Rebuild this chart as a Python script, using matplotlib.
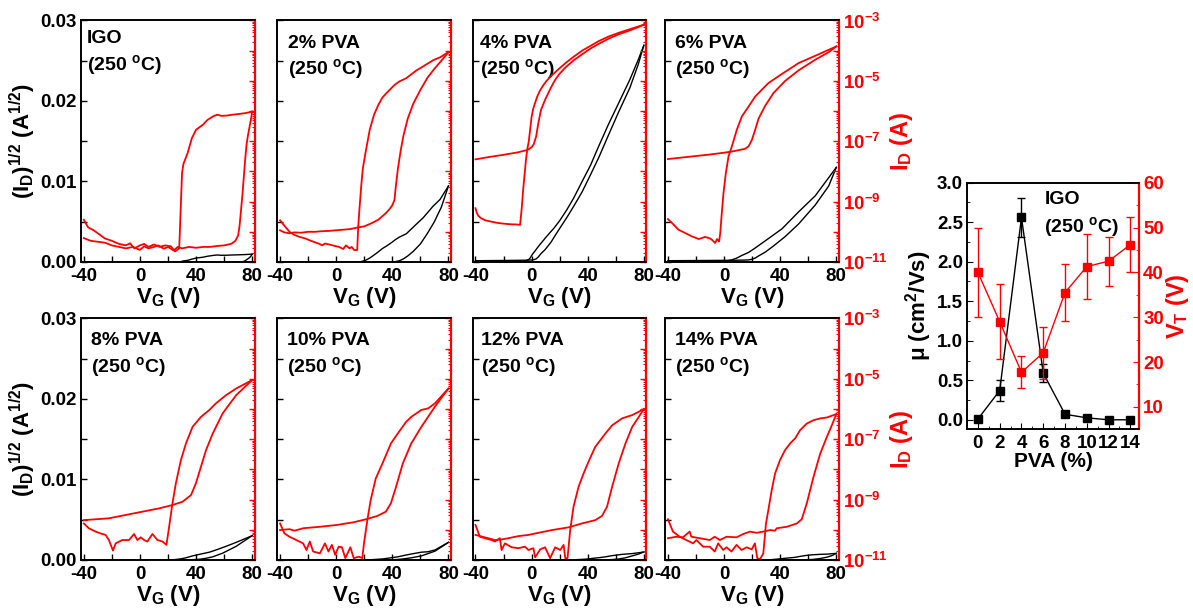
import numpy as np
import matplotlib
matplotlib.use('Agg')
import matplotlib.pyplot as plt
from matplotlib.ticker import MultipleLocator, LogLocator, FuncFormatter, NullFormatter, FormatStrFormatter

plt.rcParams['font.family'] = ['Liberation Sans', 'DejaVu Sans']
plt.rcParams['font.weight'] = 'bold'
plt.rcParams['axes.labelweight'] = 'bold'
plt.rcParams['axes.unicode_minus'] = False
plt.rcParams['mathtext.fontset'] = 'custom'
plt.rcParams['mathtext.rm'] = 'Liberation Sans:bold'
plt.rcParams['mathtext.it'] = 'Liberation Sans:bold'
plt.rcParams['mathtext.bf'] = 'Liberation Sans:bold'
plt.rcParams['mathtext.default'] = 'rm'

# ---------------- data: transfer curves, (V_G [V], log10 I_D [A]) -------------
IGO_A = [(-40,-10.21),(-35,-10.30),(-30,-10.33),(-25,-10.36),(-20,-10.45),(-15,-10.50),(-10,-10.55),
         (-5,-10.50),(0,-10.60),(3,-10.48),(6,-10.55),(10,-10.50),(13,-10.45),(17,-10.56),(20,-10.50),
         (24,-10.62),(27,-10.50),(30,-10.55),(35,-10.50),(40,-10.53),(45,-10.50),(50,-10.50),(55,-10.47),
         (60,-10.45),(65,-10.40),(68,-10.30),(70,-10.12),(71,-9.8),(72,-9.3),(73,-8.8),(74,-8.2),
         (75,-7.6),(76,-7.1),(77,-6.8),(78,-6.55),(79,-6.3),(80,-6.02)]
IGO_B = [(-40,-9.60),(-37,-9.85),(-33,-9.95),(-30,-10.05),(-25,-10.22),(-20,-10.30),(-15,-10.40),
         (-10,-10.45),(-7,-10.38),(-4,-10.55),(0,-10.45),(3,-10.40),(6,-10.50),(10,-10.42),(14,-10.50),
         (18,-10.45),(22,-10.48),(25,-10.65),(28,-10.55),(29,-9.3),(30,-8.05),(31,-7.75),(34,-7.39),
         (37,-6.9),(40,-6.62),(42,-6.55),(45,-6.45),(48,-6.30),(52,-6.18),(55,-6.12),(58,-6.16),
         (62,-6.15),(66,-6.12),(70,-6.10),(75,-6.07),(80,-6.02)]

P2_A = [(-40,-9.95),(-37,-10.02),(-33,-10.05),(-30,-10.02),(-25,-10.03),(-20,-10.00),(-15,-10.00),
        (-10,-9.98),(-5,-9.97),(0,-9.95),(5,-9.93),(10,-9.91),(15,-9.86),(20,-9.82),(25,-9.72),
        (30,-9.60),(35,-9.40),(38,-9.25),(40,-9.12),(41.5,-8.95),(42.5,-8.5),(44,-7.9),(46,-7.3),
        (48,-6.8),(51,-6.25),(55,-5.75),(60,-5.30),(65,-4.90),(70,-4.60),(75,-4.33),(80,-4.05)]
P2_B = [(80,-4.05),(74,-4.22),(69,-4.32),(62,-4.52),(57,-4.66),(50,-4.91),(45,-5.02),(42,-5.12),
        (40,-5.21),(36,-5.40),(33,-5.55),(30,-5.80),(27,-6.12),(24,-6.60),(21,-7.35),(19,-7.90),
        (17.8,-8.5),(16.5,-9.3),(15.7,-9.82),(15,-10.60),(13,-10.61),(11,-10.50),(9.6,-10.55),
        (7,-10.45),(5,-10.57),(2,-10.50),(0,-10.48),(-5,-10.42),(-8,-10.39),(-10,-10.45),
        (-12,-10.40),(-15,-10.35),(-19,-10.28),(-22,-10.22),(-26,-10.17),(-30,-10.10),(-33,-10.01),
        (-36,-9.85),(-40,-9.62)]

P4_A = [(-40,-9.22),(-39,-9.38),(-38,-9.47),(-36,-9.55),(-33,-9.62),(-29,-9.66),(-25,-9.70),
        (-20,-9.73),(-15,-9.75),(-10,-9.76),(-8.2,-9.77),(-7,-9.2),(-6,-8.6),(-5,-8.1),(-4,-7.6),
        (-3,-7.25),(-2,-7.0),(-1,-6.6),(0,-6.2),(1,-5.95),(2,-5.80),(4,-5.52),(6,-5.32),(8,-5.17),
        (10.3,-5.02),(13,-4.88),(16,-4.75),(20,-4.58),(25,-4.38),(30,-4.20),(36,-4.00),(42,-3.84),
        (48,-3.68),(55,-3.53),(62,-3.41),(70,-3.29),(76,-3.20),(80,-3.14)]
P4_B = [(-40,-7.60),(-30,-7.52),(-20,-7.45),(-10,-7.37),(-3,-7.29),(0,-7.2),(1.5,-7.1),(3.2,-6.85),
        (4.8,-6.4),(6.7,-5.96),(9.6,-5.63),(13.8,-5.22),(17,-4.95),(20,-4.76),(25,-4.52),(30,-4.32),
        (36,-4.12),(42,-3.93),(48,-3.77),(55,-3.60),(62,-3.46),(70,-3.33),(76,-3.22),(80,-3.14)]

P6_A = [(-40,-9.58),(-37,-9.71),(-32.5,-9.93),(-27.7,-10.04),(-23,-10.15),(-18,-10.24),(-13.5,-10.17),
        (-10,-10.22),(-8.7,-10.26),(-6.3,-10.37),(-5,-10.24),(-3.5,-10.32),(-2.7,-10.04),(-1.6,-9.38),
        (-0.4,-8.72),(1.3,-8.05),(3.2,-7.50),(5.6,-7.17),(9.1,-6.62),(12.7,-6.18),(17.5,-5.85),
        (22.2,-5.52),(31.7,-5.07),(41.3,-4.77),(53.2,-4.41),(65,-4.17),(80,-3.86)]
P6_B = [(-40,-7.59),(-30,-7.54),(-20,-7.49),(-10,-7.44),(0,-7.38),(5.6,-7.34),(10,-7.30),(15,-7.25),
        (17.5,-7.17),(19.9,-6.95),(22.2,-6.62),(24.6,-6.25),(29.4,-5.82),(35.3,-5.40),(43.6,-5.00),
        (53.2,-4.65),(65,-4.30),(74.6,-4.05),(80,-3.86)]

P8_A = [(-40,-9.79),(-36.4,-9.95),(-31.6,-10.06),(-28.1,-10.12),(-24.5,-10.17),(-22.1,-10.34),
        (-19.2,-10.69),(-17.3,-10.45),(-12.6,-10.34),(-7.8,-10.34),(-4.2,-10.14),(-1.8,-10.34),
        (0.6,-10.25),(3,-10.34),(5.3,-10.39),(8.9,-10.14),(12.5,-10.34),(16.1,-10.39),(18.9,-10.50),
        (20.8,-9.90),(23.2,-9.12),(25.6,-8.46),(29.2,-7.69),(32.8,-7.14),(37.5,-6.59),(43.5,-6.26),
        (49.5,-6.03),(54.2,-5.81),(61.4,-5.54),(68.6,-5.32),(80,-5.04)]
P8_B = [(-40,-9.68),(-22.1,-9.62),(-10.2,-9.51),(1.8,-9.40),(13.7,-9.29),(23.2,-9.18),(30.4,-9.07),
        (36.4,-8.85),(39.9,-8.46),(43.5,-7.91),(47.1,-7.36),(51.9,-6.81),(59,-6.14),(68.6,-5.54),
        (80,-5.04)]

P10_A = [(-40,-9.79),(-36.9,-10.12),(-33.3,-10.23),(-28.4,-10.34),(-23.6,-10.45),(-21.2,-10.67),
         (-18.8,-10.39),(-16.4,-10.72),(-11.6,-10.78),(-8,-10.45),(-5.5,-10.72),(-3.1,-10.50),
         (-0.7,-10.83),(1.7,-10.56),(4.1,-10.58),(6.5,-10.94),(10.1,-10.58),(12.5,-10.94),
         (16.2,-10.89),(18.6,-10.94),(19.8,-10.45),(22.2,-9.68),(24.6,-9.01),(28.2,-8.30),
         (33,-7.80),(39,-7.14),(43.9,-6.81),(49.9,-6.42),(53.5,-6.26),(60.7,-6.03),(65.5,-5.98),
         (70.4,-5.81),(80,-5.32)]
P10_B = [(-40,-10.01),(-33.3,-9.98),(-29.6,-10.03),(-23.6,-9.95),(-11.6,-9.90),(0.5,-9.84),
         (12.5,-9.75),(22.2,-9.64),(29.4,-9.54),(35.4,-9.40),(39,-9.12),(42.7,-8.57),(47.5,-7.80),
         (53.5,-7.14),(60.7,-6.59),(70.4,-5.92),(80,-5.32)]

P12_A = [(-40,-9.84),(-36.9,-10.23),(-33.3,-10.28),(-28.5,-10.34),(-26.2,-10.39),(-22.6,-10.28),
         (-21.4,-10.67),(-19,-10.45),(-14.2,-10.58),(-9.5,-10.61),(-4.7,-10.56),(-2.3,-10.67),
         (1.3,-10.61),(2.5,-10.91),(6.1,-10.65),(9.6,-10.58),(13.2,-10.94),(16.8,-10.58),
         (20.4,-10.67),(22.8,-10.50),(24,-10.94),(25.6,-10.94),(27.5,-10.01),(29.9,-9.23),
         (33.5,-8.57),(37.1,-8.13),(40.6,-7.74),(45.4,-7.25),(49,-7.03),(52.6,-6.81),(57.4,-6.54),
         (64.5,-6.31),(71.7,-6.20),(76.4,-6.09),(80,-6.00)]
P12_B = [(-40,-10.17),(-30.9,-10.28),(-26.2,-10.34),(-21.4,-10.32),(-16.6,-10.28),(-9.5,-10.21),
         (-2.3,-10.17),(4.9,-10.10),(14.4,-10.01),(26.3,-9.92),(35.9,-9.79),(45.4,-9.68),(50.2,-9.54),
         (53.8,-9.23),(57.4,-8.57),(62.1,-7.80),(66.9,-7.14),(71.7,-6.59),(76.4,-6.26),(80,-6.00)]

P14_A = [(-40,-9.65),(-36.4,-10.06),(-31.6,-10.23),(-26.9,-10.34),(-22.1,-10.45),(-19.7,-10.34),
         (-14.9,-10.56),(-10.2,-10.56),(-6.6,-10.72),(-4.2,-10.45),(-0.6,-10.67),(1.8,-10.58),
         (5.3,-10.72),(8.9,-10.50),(12.5,-10.67),(16.1,-10.58),(19.7,-10.65),(22,-10.45),
         (23.7,-10.94),(25.6,-10.98),(28,-10.78),(29.9,-9.79),(31.6,-9.34),(34,-8.68),(36.4,-8.13),
         (39.9,-7.69),(43.5,-7.36),(47.1,-7.14),(50.7,-6.97),(54.2,-6.70),(59,-6.48),(63.8,-6.37),
         (68.6,-6.31),(73.3,-6.28),(80,-6.17)]
P14_B = [(-40,-10.28),(-34,-10.23),(-29.3,-10.25),(-24.5,-10.06),(-23.3,-10.23),(-17.3,-10.28),
         (-10.2,-10.34),(-6.6,-10.23),(-3,-10.34),(1.8,-10.23),(8.9,-10.25),(13.7,-10.14),
         (18.5,-10.06),(23.2,-10.10),(28,-10.06),(32.8,-10.01),(36.4,-10.03),(37.5,-9.95),
         (44.7,-9.90),(51.9,-9.79),(55.4,-9.65),(59,-9.12),(63.8,-8.24),(68.6,-7.47),(73.3,-6.92),
         (76.9,-6.53),(80,-6.17)]

panel_titles = ['IGO', '2% PVA', '4% PVA', '6% PVA', '8% PVA', '10% PVA', '12% PVA', '14% PVA']
panel_curves = [(IGO_A, IGO_B), (P2_A, P2_B), (P4_A, P4_B), (P6_A, P6_B),
                (P8_A, P8_B), (P10_A, P10_B), (P12_A, P12_B), (P14_A, P14_B)]

# ---------------- data: mobility / threshold voltage vs PVA -----------------
pva = [0, 2, 4, 6, 8, 10, 12, 14]
mu = [0.01, 0.37, 2.56, 0.59, 0.07, 0.025, 0.0, 0.0]
mu_err = [0.0, 0.13, 0.25, 0.11, 0.0, 0.0, 0.0, 0.0]
vt = [40.0, 29.0, 17.7, 22.1, 35.5, 41.3, 42.5, 46.2]
vt_err = [10.0, 8.4, 3.6, 5.8, 6.3, 7.2, 5.5, 6.1]

# ---------------- figure ----------------------------------------------------
fig = plt.figure(figsize=(11.93, 6.09), dpi=100)

col_left = [0.0679, 0.2324, 0.3962, 0.5575]
row_bottom = [0.5698, 0.0805]
pw, ph = 0.1455, 0.3966
text_x = [0.035, 0.063, 0.04, 0.057, 0.056, 0.057, 0.046, 0.057]
text_y = [(0.905, 0.795)] + [(0.888, 0.777)] * 7

TICK_FS = 13.5
LABEL_FS = 16
TEXT_FS = 14


def red_fmt(v, pos):
    e = int(round(np.log10(v)))
    if e % 2 == 1:
        return r'10$^{%d}$' % e
    return ''


for i, (title, (ca, cb)) in enumerate(zip(panel_titles, panel_curves)):
    r, c = divmod(i, 4)
    ax = fig.add_axes([col_left[c], row_bottom[r], pw, ph])
    ax2 = ax.twinx()
    for br in (ca, cb):
        v, lg = np.array(br).T
        cur = 10.0 ** lg
        ax.plot(v, np.sqrt(cur), color='black', lw=1.0)
        ax2.plot(v, cur, color='red', lw=1.3)
    ax.set_xlim(-42, 81.7)
    ax.set_ylim(0, 0.03)
    ax2.set_yscale('log')
    ax2.set_ylim(1e-11, 1e-3)

    ax.xaxis.set_major_locator(MultipleLocator(40))
    ax.xaxis.set_minor_locator(MultipleLocator(20))
    ax.yaxis.set_major_locator(MultipleLocator(0.01))
    ax.yaxis.set_minor_locator(MultipleLocator(0.005))
    ax.yaxis.set_major_formatter(FormatStrFormatter('%.2f'))
    ax.tick_params(which='both', direction='in', top=False, right=False,
                   labelsize=TICK_FS, width=1.0, pad=3)
    ax.tick_params(axis='x', pad=4)
    ax.tick_params(which='major', length=4)
    ax.tick_params(which='minor', length=4)
    ax.tick_params(axis='y', labelleft=(c == 0))

    ax2.yaxis.set_major_locator(LogLocator(base=10, numticks=20))
    ax2.yaxis.set_minor_locator(LogLocator(base=10, subs=np.arange(2, 10), numticks=20))
    ax2.yaxis.set_major_formatter(FuncFormatter(red_fmt))
    ax2.yaxis.set_minor_formatter(NullFormatter())
    ax2.tick_params(which='both', direction='in', colors='red', labelsize=TICK_FS, pad=3)
    ax2.tick_params(which='major', length=4, width=1.0)
    ax2.tick_params(which='minor', length=2.5, width=0.8)
    ax2.tick_params(axis='y', labelright=(c == 3))
    ax2.spines['right'].set_color('red')
    ax2.spines['right'].set_linewidth(1.6)
    for sp in ('left', 'top', 'bottom'):
        ax2.spines[sp].set_linewidth(1.2)
        ax.spines[sp].set_linewidth(1.2)
    ax.spines['right'].set_visible(False)

    ax.set_xlabel('V$_G$ (V)', fontsize=LABEL_FS, labelpad=0)
    if c == 0:
        ax.set_ylabel('(I$_D$)$^{1/2}$ (A$^{1/2}$)', fontsize=LABEL_FS, labelpad=2)
    if c == 3:
        ax2.set_ylabel('I$_D$ (A)', fontsize=LABEL_FS + 1, color='red', labelpad=0)

    ax.text(text_x[i], text_y[i][0], title, transform=ax.transAxes, fontsize=TEXT_FS,
            fontweight='bold', va='baseline', ha='left')
    ax.text(text_x[i], text_y[i][1], '(250 $^o$C)', transform=ax.transAxes, fontsize=TEXT_FS,
            fontweight='bold', va='baseline', ha='left')

# ---------------- right summary panel ----------------------------------------
axm = fig.add_axes([0.8106, 0.2951, 0.1442, 0.4049])
axv = axm.twinx()
axm.errorbar(pva, mu, yerr=mu_err, color='black', marker='s', markersize=5.5, lw=1.0,
             capsize=3, elinewidth=1.0, capthick=1.0)
axv.errorbar(pva, vt, yerr=vt_err, color='red', marker='s', markersize=5.5, lw=1.0,
             capsize=3, elinewidth=1.0, capthick=1.0, ecolor='red')
axm.set_xlim(-1, 14.8)
axm.set_ylim(-0.12, 3.0)
axv.set_ylim(5, 60)
axm.xaxis.set_major_locator(MultipleLocator(2))
axm.xaxis.set_minor_locator(MultipleLocator(1))
axm.yaxis.set_major_locator(MultipleLocator(0.5))
axm.yaxis.set_minor_locator(MultipleLocator(0.25))
axm.yaxis.set_major_formatter(FormatStrFormatter('%.1f'))
axv.yaxis.set_major_locator(MultipleLocator(10))
axv.yaxis.set_minor_locator(MultipleLocator(5))
axm.tick_params(which='both', direction='in', top=False, right=False, labelsize=TICK_FS, pad=3)
axm.tick_params(axis='x', pad=4)
axm.tick_params(which='major', length=4)
axm.tick_params(which='minor', length=2.5)
axv.tick_params(which='both', direction='in', colors='red', labelsize=TICK_FS, pad=3)
axv.tick_params(which='major', length=4)
axv.tick_params(which='minor', length=2.5)
axv.spines['right'].set_color('red')
axv.spines['right'].set_linewidth(1.6)
for sp in ('left', 'top', 'bottom'):
    axv.spines[sp].set_linewidth(1.2)
    axm.spines[sp].set_linewidth(1.2)
axm.spines['right'].set_visible(False)
axm.set_xlabel('PVA (%)', fontsize=15, labelpad=0)
axm.set_ylabel('μ (cm$^2$/Vs)', fontsize=LABEL_FS, labelpad=2)
axv.set_ylabel('V$_T$ (V)', fontsize=17, color='red', labelpad=0)
axm.text(0.45, 0.915, 'IGO', transform=axm.transAxes, fontsize=TEXT_FS, fontweight='bold',
         va='baseline', ha='left')
axm.text(0.45, 0.80, '(250 $^o$C)', transform=axm.transAxes, fontsize=TEXT_FS, fontweight='bold',
         va='baseline', ha='left')

fig.savefig('out.png', dpi=100)
